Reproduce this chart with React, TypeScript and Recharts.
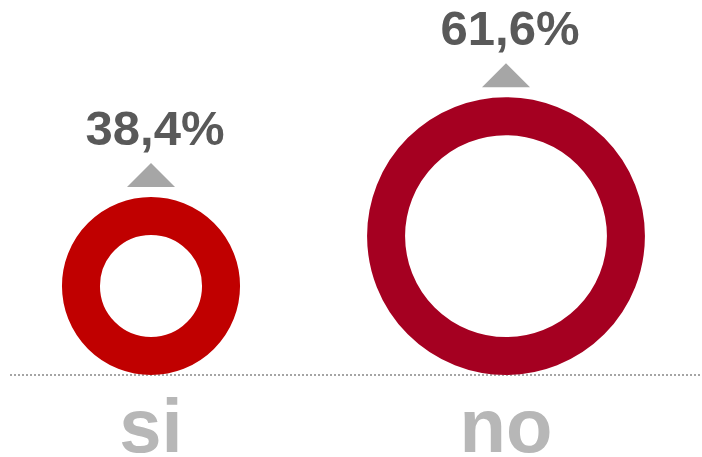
import React from 'react';
import { LineChart, Line, XAxis, YAxis } from 'recharts';

const categories = ['si', 'no'];
const values = [38.4, 61.6];
const valueLabels = ['38,4%', '61,6%'];
const RING_COLORS = ['#c00000', '#a50021'];

const data = categories.map((c, i) => ({ name: c, value: values[i], label: valueLabels[i] }));

const W = 702;
const H = 457;
const MARGIN = { top: 18, right: 2, bottom: 0, left: 10 };
const XAXIS_H = 82;
const BASELINE = H - MARGIN.bottom - XAXIS_H;
const RING_W = 38;
const FONT = "'Liberation Sans', Arial, Helvetica, sans-serif";

function RingDot(props: any) {
  const { cx, cy, index, payload } = props;
  if (cx == null || cy == null) return null;
  const R = (BASELINE - cy) / 2;
  const ringCy = cy + R;
  const triBase = cy - 10;
  const triTop = triBase - 24;
  return (
    <g>
      <circle cx={cx} cy={ringCy} r={R - RING_W / 2} fill="none" stroke={RING_COLORS[index]} strokeWidth={RING_W} />
      <polygon points={`${cx - 24},${triBase} ${cx + 24},${triBase} ${cx},${triTop}`} fill="#a6a6a6" />
      <text x={cx + 4} y={triTop - 18} textAnchor="middle" fontFamily={FONT} fontWeight="bold" fontSize={49} fill="#595959">
        {payload.label}
      </text>
    </g>
  );
}

function CatTick(props: any) {
  const { x, y, payload } = props;
  return (
    <text x={x} y={y + 77} textAnchor="middle" fontFamily={FONT} fontWeight="bold" fontSize={76} fill="#b7b7b7">
      {payload.value}
    </text>
  );
}

export default function App() {
  return (
    <div style={{ position: 'absolute', left: 0, top: 0, width: W, height: H, background: '#fff' }}>
      <LineChart width={W} height={H} data={data} margin={MARGIN}>
        <XAxis
          dataKey="name"
          type="category"
          scale="point"
          padding={{ left: 141, right: 194 }}
          height={XAXIS_H}
          tickLine={false}
          tickSize={0}
          tickMargin={0}
          axisLine={{ stroke: '#888888', strokeWidth: 1.5, strokeDasharray: '2 2' }}
          tick={<CatTick />}
          interval={0}
        />
        <YAxis hide domain={[-3, 80]} />
        <Line
          dataKey="value"
          stroke="none"
          dot={(p: any) => <RingDot key={p.key ?? p.index} {...p} />}
          activeDot={false}
          isAnimationActive={false}
        />
      </LineChart>
    </div>
  );
}
